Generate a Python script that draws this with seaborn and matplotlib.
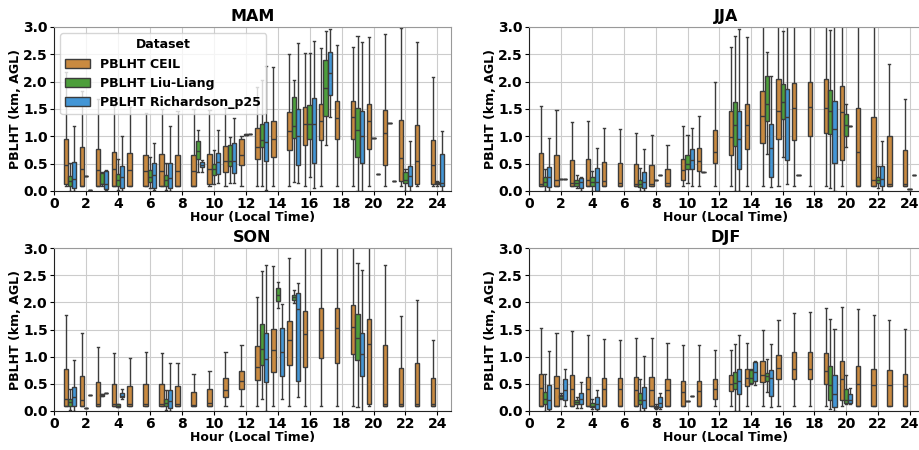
import seaborn as sns
import matplotlib.pyplot as plt
import pandas as pd

# box stats per hour (1..24): (low, q1, median, q3, high), single value, or None
HOURS = list(range(1, 25))
DATASETS = ['PBLHT CEIL', 'PBLHT Liu-Liang', 'PBLHT Richardson_p25']
COLORS = ['#C98A40', '#4D9E3B', '#4396D6']
SEASONS = ['MAM', 'JJA', 'SON', 'DJF']

MAM_CEIL = [
    (0.10, 0.12, 0.47, 0.95, 2.17), (0.10, 0.10, 0.40, 0.80, 1.83),
    (0.10, 0.10, 0.39, 0.76, 1.69), (0.10, 0.10, 0.41, 0.71, 1.55),
    (0.10, 0.10, 0.38, 0.70, 1.54), (0.10, 0.10, 0.36, 0.65, 1.43),
    (0.10, 0.10, 0.36, 0.67, 1.50), (0.10, 0.10, 0.36, 0.66, 1.46),
    (0.10, 0.10, 0.37, 0.66, 1.50), (0.10, 0.13, 0.40, 0.68, 1.49),
    (0.10, 0.35, 0.55, 0.83, 1.52), (0.10, 0.47, 0.65, 0.95, 1.00),
    (0.10, 0.58, 0.81, 1.15, 1.90), (0.10, 0.62, 0.95, 1.28, 2.27),
    (0.10, 0.75, 1.10, 1.45, 2.51), (0.10, 0.85, 1.22, 1.54, 2.52),
    (0.10, 0.93, 1.28, 1.60, 2.61), (0.10, 0.95, 1.34, 1.65, 2.67),
    (0.10, 0.95, 1.35, 1.64, 2.64), (0.10, 0.77, 1.28, 1.59, 2.82),
    (0.10, 0.48, 1.07, 1.48, 2.87), (0.10, 0.18, 0.60, 1.30, 2.98),
    (0.10, 0.13, 0.55, 1.20, 2.72), (0.10, 0.12, 0.47, 0.93, 2.09),
]
MAM_LIU = [
    (0.00, 0.10, 0.19, 0.28, 0.52), 0.27, (0.10, 0.12, 0.13, 0.33, 0.35),
    (0.02, 0.10, 0.20, 0.32, 0.58), None, (0.05, 0.17, 0.26, 0.39, 0.62),
    (0.02, 0.10, 0.20, 0.30, 0.52), None, (0.35, 0.58, 0.73, 0.92, 1.12),
    (0.12, 0.30, 0.40, 0.50, 0.75), (0.15, 0.45, 0.55, 0.85, 0.98),
    (1.02, 1.03, 1.03, 1.04, 1.05), (0.10, 0.80, 0.93, 1.22, 2.03), None,
    (0.17, 0.97, 1.18, 1.72, 2.03), (0.25, 0.95, 1.22, 1.58, 2.53),
    (0.85, 1.38, 1.88, 2.40, 2.92), None, (0.00, 0.62, 1.12, 1.52, 2.84),
    0.97, 1.24, (0.00, 0.15, 0.20, 0.35, 0.40), None,
    (0.10, 0.12, 0.15, 0.17, 0.18),
]
MAM_RICH = [
    (0.00, 0.05, 0.22, 0.53, 1.19), 0.01, (0.02, 0.04, 0.13, 0.36, 0.38),
    (0.00, 0.05, 0.26, 0.45, 1.00), None, (0.02, 0.05, 0.30, 0.52, 0.88),
    (0.00, 0.05, 0.23, 0.52, 1.18), None, (0.35, 0.43, 0.48, 0.53, 0.57),
    (0.15, 0.32, 0.53, 0.70, 1.12), (0.15, 0.33, 0.55, 0.87, 1.34), 1.05,
    (0.02, 0.55, 0.90, 1.26, 2.28), None, (0.15, 0.48, 1.00, 1.50, 2.70),
    (0.05, 0.52, 1.22, 1.70, 2.75), (1.35, 1.75, 2.15, 2.55, 2.96), None,
    (0.00, 0.52, 1.01, 1.47, 2.73), 0.31, 0.19,
    (0.00, 0.10, 0.27, 0.45, 0.92), None, (0.00, 0.10, 0.15, 0.68, 1.10),
]

JJA_CEIL = [
    (0.10, 0.10, 0.13, 0.69, 1.56), (0.10, 0.10, 0.21, 0.66, 1.48),
    (0.10, 0.10, 0.14, 0.57, 1.26), (0.10, 0.10, 0.21, 0.58, 1.28),
    (0.10, 0.10, 0.18, 0.53, 1.16), (0.10, 0.10, 0.14, 0.52, 1.13),
    (0.10, 0.10, 0.13, 0.50, 1.07), (0.10, 0.10, 0.13, 0.48, 1.03),
    (0.10, 0.10, 0.14, 0.41, 0.85), (0.10, 0.20, 0.38, 0.58, 1.19),
    (0.10, 0.37, 0.55, 0.78, 1.38), (0.10, 0.52, 0.72, 1.12, 2.00),
    (0.10, 0.65, 0.99, 1.46, 2.64), (0.10, 0.77, 1.21, 1.60, 2.81),
    (0.10, 0.88, 1.37, 1.83, 3.40), (0.10, 0.95, 1.47, 2.05, 3.40),
    (0.10, 0.93, 1.52, 1.97, 3.40), (0.10, 1.00, 1.54, 1.99, 3.40),
    (0.10, 1.07, 1.52, 2.04, 3.40), (0.10, 0.57, 1.44, 1.92, 3.40),
    (0.10, 0.10, 0.71, 1.52, 3.40), (0.10, 0.10, 0.20, 1.35, 3.40),
    (0.10, 0.10, 0.12, 1.00, 2.32), (0.10, 0.10, 0.13, 0.75, 1.68),
]
JJA_LIU = [
    (0.00, 0.10, 0.16, 0.25, 0.40), 0.22, (0.05, 0.10, 0.15, 0.20, 0.30),
    (0.00, 0.10, 0.17, 0.25, 0.37), None, None,
    (0.00, 0.07, 0.13, 0.20, 0.42), 0.21, None,
    (0.15, 0.40, 0.50, 0.65, 1.02), 0.35, None,
    (0.00, 0.82, 1.20, 1.63, 2.84), None, (0.68, 1.28, 1.60, 2.11, 2.55),
    (0.62, 1.32, 1.62, 1.96, 2.92), 0.30, None,
    (0.05, 1.05, 1.47, 1.85, 2.95), (0.80, 1.01, 1.20, 1.40, 1.60), None,
    (0.05, 0.15, 0.20, 0.26, 0.46), None, 0.04,
]
JJA_RICH = [
    (0.00, 0.08, 0.26, 0.44, 0.97), 0.22, (0.00, 0.06, 0.16, 0.23, 0.26),
    (0.00, 0.00, 0.17, 0.42, 0.78), None, None,
    (0.00, 0.05, 0.16, 0.34, 0.77), 0.30, None,
    (0.10, 0.40, 0.56, 0.77, 1.16), None, None,
    (0.00, 0.41, 0.96, 1.46, 2.96), None, (0.07, 0.26, 0.79, 1.23, 2.10),
    (0.12, 0.56, 1.35, 1.87, 3.40), None, None,
    (0.00, 0.52, 1.14, 1.64, 3.40), 1.18, None,
    (0.00, 0.10, 0.22, 0.46, 0.91), None, 0.30,
]

SON_CEIL = [
    (0.10, 0.10, 0.22, 0.78, 1.76), (0.10, 0.10, 0.21, 0.65, 1.43),
    (0.10, 0.10, 0.13, 0.54, 1.17), (0.10, 0.10, 0.12, 0.50, 1.07),
    (0.10, 0.10, 0.12, 0.46, 0.97), (0.10, 0.10, 0.12, 0.50, 1.08),
    (0.10, 0.10, 0.12, 0.49, 1.06), (0.10, 0.10, 0.12, 0.46, 0.89),
    (0.10, 0.10, 0.11, 0.35, 0.69), (0.10, 0.10, 0.15, 0.40, 0.74),
    (0.10, 0.25, 0.38, 0.60, 1.09), (0.10, 0.41, 0.56, 0.74, 1.21),
    (0.10, 0.57, 0.81, 1.20, 2.10), (0.10, 0.72, 1.12, 1.51, 2.67),
    (0.10, 0.84, 1.30, 1.65, 2.82), (0.10, 0.81, 1.42, 1.84, 3.40),
    (0.10, 0.98, 1.50, 1.89, 3.40), (0.10, 0.88, 1.52, 1.90, 3.40),
    (0.10, 1.04, 1.54, 1.95, 3.40), (0.10, 0.13, 1.23, 1.69, 3.40),
    (0.10, 0.10, 0.12, 1.22, 2.68), (0.10, 0.10, 0.12, 0.79, 1.75),
    (0.10, 0.10, 0.12, 0.89, 2.04), (0.10, 0.10, 0.12, 0.60, 1.31),
]
SON_LIU = [
    (0.02, 0.10, 0.16, 0.22, 0.40), 0.06, (0.28, 0.28, 0.30, 0.32, 0.32),
    (0.07, 0.07, 0.10, 0.12, 0.12), None, None,
    (0.02, 0.10, 0.15, 0.22, 0.38), None, None, None, None, None,
    (0.23, 0.85, 1.14, 1.60, 2.57), (1.90, 2.02, 2.14, 2.26, 2.38),
    (1.98, 2.05, 2.10, 2.14, 2.22), None, None, None,
    (0.08, 0.93, 1.34, 1.78, 2.72), None, None, None, None, None,
]
SON_RICH = [
    (0.00, 0.10, 0.26, 0.45, 0.94), 0.29, 0.34,
    (0.22, 0.25, 0.28, 0.33, 0.40), None, None,
    (0.00, 0.05, 0.18, 0.38, 0.88), None, None, None, None, None,
    (0.00, 0.53, 0.95, 1.43, 2.68), (0.22, 0.65, 1.09, 1.53, 1.97),
    (0.26, 0.55, 1.88, 2.17, 2.35), None, None, None,
    (0.00, 0.64, 1.04, 1.44, 2.59), None, None, None, None, None,
]

DJF_CEIL = [
    (0.10, 0.10, 0.42, 0.68, 1.52), (0.10, 0.10, 0.42, 0.65, 1.43),
    (0.10, 0.10, 0.41, 0.67, 1.48), (0.10, 0.10, 0.40, 0.63, 1.39),
    (0.10, 0.10, 0.41, 0.61, 1.33), (0.10, 0.10, 0.40, 0.60, 1.30),
    (0.10, 0.10, 0.39, 0.62, 1.35), (0.10, 0.10, 0.39, 0.62, 1.35),
    (0.10, 0.10, 0.38, 0.58, 1.26), (0.10, 0.10, 0.35, 0.55, 1.21),
    (0.10, 0.10, 0.36, 0.56, 1.22), (0.10, 0.22, 0.41, 0.59, 1.12),
    (0.10, 0.36, 0.50, 0.66, 1.13), (0.10, 0.46, 0.60, 0.77, 1.26),
    (0.10, 0.53, 0.67, 0.92, 1.50), (0.10, 0.58, 0.80, 1.03, 1.67),
    (0.10, 0.58, 0.78, 1.09, 1.81), (0.10, 0.58, 0.78, 1.08, 1.83),
    (0.10, 0.50, 0.74, 1.06, 1.90), (0.10, 0.20, 0.58, 0.92, 1.91),
    (0.10, 0.10, 0.50, 0.83, 1.88), (0.10, 0.10, 0.48, 0.78, 1.77),
    (0.10, 0.10, 0.48, 0.75, 1.67), (0.10, 0.10, 0.46, 0.68, 1.51),
]
DJF_LIU = [
    (0.00, 0.12, 0.22, 0.35, 0.68), (0.22, 0.24, 0.27, 0.30, 0.33),
    (0.05, 0.12, 0.16, 0.20, 0.25), (0.03, 0.07, 0.10, 0.14, 0.22),
    None, None, (0.00, 0.12, 0.20, 0.33, 0.58),
    (0.03, 0.05, 0.07, 0.10, 0.12), None, 0.19, None, None,
    (0.00, 0.40, 0.52, 0.72, 1.23), (0.50, 0.52, 0.60, 0.76, 0.78),
    (0.35, 0.55, 0.65, 0.70, 0.95), None, None, None,
    (0.03, 0.20, 0.48, 0.82, 1.70), (0.12, 0.15, 0.20, 0.41, 0.66),
    None, None, None, None,
]
DJF_RICH = [
    (0.00, 0.03, 0.20, 0.47, 1.11), (0.10, 0.20, 0.39, 0.58, 0.77),
    (0.05, 0.13, 0.22, 0.34, 0.54), (0.00, 0.04, 0.13, 0.26, 0.38),
    None, None, (0.00, 0.05, 0.21, 0.45, 1.02),
    (0.03, 0.07, 0.15, 0.25, 0.33), None, 0.28, None, None,
    (0.00, 0.32, 0.55, 0.77, 1.39), (0.48, 0.55, 0.72, 0.91, 0.92),
    (0.08, 0.27, 0.60, 0.75, 1.23), None, None, None,
    (0.00, 0.07, 0.31, 0.67, 1.51), (0.12, 0.15, 0.20, 0.31, 0.42),
    None, None, None, None,
]

season_data = {
    'MAM': [MAM_CEIL, MAM_LIU, MAM_RICH],
    'JJA': [JJA_CEIL, JJA_LIU, JJA_RICH],
    'SON': [SON_CEIL, SON_LIU, SON_RICH],
    'DJF': [DJF_CEIL, DJF_LIU, DJF_RICH],
}


def to_frame(series_list):
    rows = []
    for name, series in zip(DATASETS, series_list):
        for hour, entry in zip(HOURS, series):
            if entry is None:
                continue
            vals = [entry] if isinstance(entry, float) else list(entry)
            for v in vals:
                rows.append({'Hour': hour, 'PBLHT': v, 'Dataset': name})
    return pd.DataFrame(rows)


plt.rcParams['font.family'] = ['DejaVu Sans']
plt.rcParams['font.weight'] = 'bold'
plt.rcParams['axes.labelweight'] = 'bold'
plt.rcParams['axes.titleweight'] = 'bold'

fig = plt.figure(figsize=(9.2, 4.5), dpi=100)
rects = {
    'MAM': [54 / 920, 1 - 191 / 450, 397 / 920, 164 / 450],
    'JJA': [529 / 920, 1 - 191 / 450, 394 / 920, 164 / 450],
    'SON': [54 / 920, 1 - 411 / 450, 397 / 920, 163 / 450],
    'DJF': [529 / 920, 1 - 411 / 450, 394 / 920, 163 / 450],
}

for season in SEASONS:
    ax = fig.add_axes(rects[season])
    df = to_frame(season_data[season])
    sns.boxplot(data=df, x='Hour', y='PBLHT', hue='Dataset', hue_order=DATASETS,
                palette=COLORS, saturation=1, native_scale=True, whis=(0, 100),
                showfliers=False, linecolor='#3c3c3c', linewidth=1.0,
                legend='auto' if season == 'MAM' else False, ax=ax)
    ax.set_axisbelow(True)
    ax.grid(True, color='#cccccc', linewidth=0.8)
    ax.set_xlim(0, 24.85)
    ax.set_ylim(0, 3)
    ax.set_xticks(range(0, 25, 2))
    ax.set_yticks([0, 0.5, 1.0, 1.5, 2.0, 2.5, 3.0])
    ax.set_yticklabels(['0.0', '0.5', '1.0', '1.5', '2.0', '2.5', '3.0'])
    ax.tick_params(labelsize=10, length=3, pad=1.5)
    ax.set_xlabel('Hour (Local Time)', fontsize=9, labelpad=0)
    ax.set_ylabel('PBLHT (km, AGL)', fontsize=9, labelpad=1)
    ax.set_title(season, fontsize=11.5, pad=4)
    for side in ['top', 'right']:
        ax.spines[side].set_color('#999999')
    for side in ['left', 'bottom']:
        ax.spines[side].set_color('#222222')
    if season == 'MAM':
        sns.move_legend(ax, 'upper left', title='Dataset', fontsize=9,
                        title_fontsize=9, frameon=True, framealpha=0.8)

fig.savefig('out.png', dpi=100)
